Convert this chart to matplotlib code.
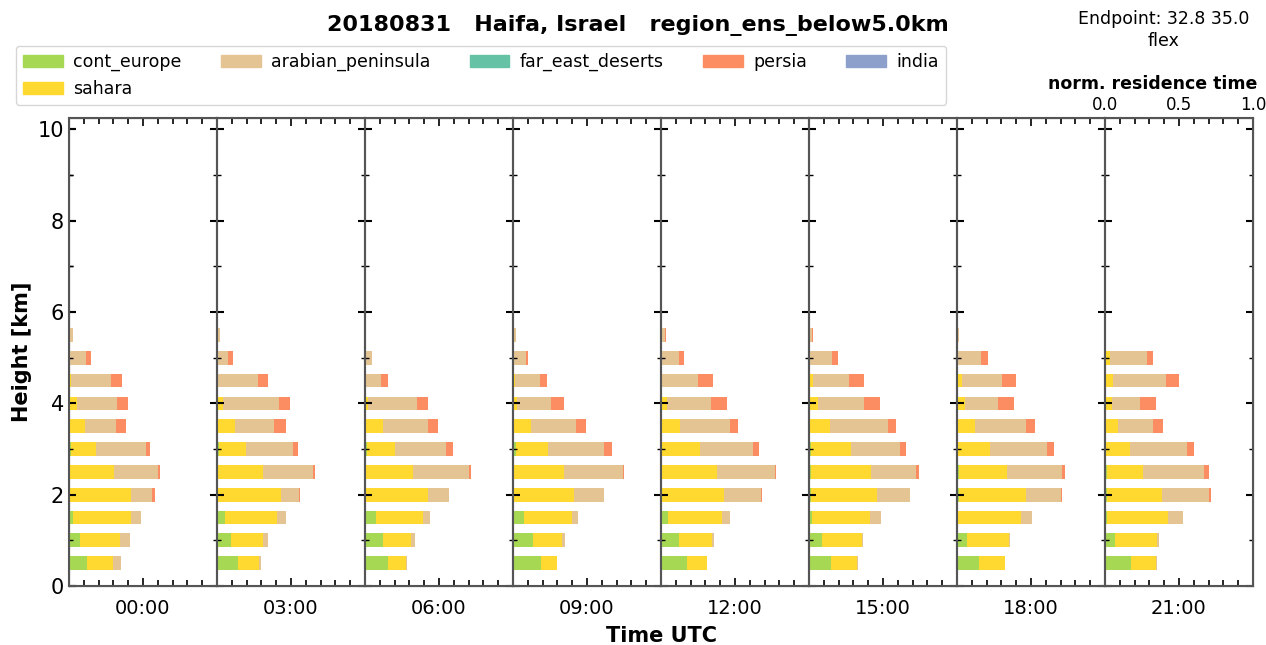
import numpy as np
import matplotlib
matplotlib.use('Agg')
import matplotlib.pyplot as plt

times = [0, 3, 6, 9, 12, 15, 18, 21]
time_labels = ['00:00', '03:00', '06:00', '09:00', '12:00', '15:00', '18:00', '21:00']
heights = [0.5, 1.0, 1.5, 2.0, 2.5, 3.0, 3.5, 4.0, 4.5, 5.0, 5.5]

# normalized residence time per time step, levels 0.5 ... 5.5 km
cont_europe = [
    [0.124, 0.077, 0.030, 0.000, 0.000, 0.016, 0.009, 0.000, 0.000, 0.000, 0.000],
    [0.140, 0.095, 0.056, 0.009, 0.007, 0.016, 0.005, 0.000, 0.000, 0.000, 0.000],
    [0.158, 0.124, 0.077, 0.009, 0.005, 0.014, 0.009, 0.000, 0.000, 0.000, 0.000],
    [0.191, 0.133, 0.072, 0.009, 0.009, 0.018, 0.007, 0.000, 0.005, 0.005, 0.000],
    [0.173, 0.119, 0.045, 0.005, 0.007, 0.009, 0.005, 0.000, 0.000, 0.007, 0.000],
    [0.146, 0.088, 0.018, 0.011, 0.011, 0.016, 0.000, 0.000, 0.000, 0.000, 0.000],
    [0.146, 0.068, 0.009, 0.016, 0.014, 0.000, 0.000, 0.000, 0.000, 0.000, 0.000],
    [0.178, 0.070, 0.011, 0.014, 0.011, 0.000, 0.000, 0.000, 0.000, 0.000, 0.000],
]
sahara = [
    [0.173, 0.266, 0.390, 0.420, 0.304, 0.164, 0.100, 0.056, 0.016, 0.000, 0.000],
    [0.144, 0.218, 0.351, 0.426, 0.306, 0.180, 0.115, 0.043, 0.007, 0.000, 0.000],
    [0.117, 0.190, 0.315, 0.419, 0.320, 0.190, 0.113, 0.023, 0.000, 0.000, 0.000],
    [0.106, 0.196, 0.329, 0.403, 0.338, 0.221, 0.113, 0.029, 0.011, 0.000, 0.000],
    [0.140, 0.223, 0.365, 0.421, 0.374, 0.257, 0.126, 0.043, 0.009, 0.000, 0.000],
    [0.176, 0.268, 0.396, 0.450, 0.410, 0.270, 0.140, 0.059, 0.027, 0.009, 0.000],
    [0.180, 0.282, 0.421, 0.448, 0.324, 0.221, 0.119, 0.052, 0.032, 0.007, 0.000],
    [0.164, 0.284, 0.417, 0.369, 0.248, 0.167, 0.088, 0.050, 0.052, 0.032, 0.000],
]
arabian_peninsula = [
    [0.052, 0.072, 0.068, 0.140, 0.300, 0.338, 0.210, 0.266, 0.270, 0.113, 0.027],
    [0.016, 0.034, 0.061, 0.120, 0.333, 0.315, 0.266, 0.376, 0.270, 0.072, 0.018],
    [0.009, 0.027, 0.050, 0.142, 0.380, 0.342, 0.306, 0.327, 0.106, 0.045, 0.009],
    [0.000, 0.020, 0.036, 0.200, 0.396, 0.376, 0.309, 0.225, 0.164, 0.081, 0.018],
    [0.000, 0.014, 0.056, 0.250, 0.387, 0.354, 0.333, 0.293, 0.243, 0.113, 0.025],
    [0.007, 0.007, 0.074, 0.220, 0.302, 0.327, 0.392, 0.311, 0.241, 0.144, 0.023],
    [0.000, 0.005, 0.077, 0.241, 0.369, 0.385, 0.349, 0.227, 0.275, 0.153, 0.016],
    [0.007, 0.009, 0.097, 0.318, 0.408, 0.390, 0.234, 0.185, 0.358, 0.255, 0.004],
]
far_east_deserts = [
    [0.0] * 11, [0.0] * 11, [0.0] * 11, [0.0] * 11,
    [0.0] * 11, [0.0] * 11, [0.0] * 11, [0.0] * 11,
]
persia = [
    [0.000, 0.000, 0.000, 0.022, 0.013, 0.027, 0.065, 0.077, 0.072, 0.038, 0.000],
    [0.000, 0.000, 0.000, 0.009, 0.014, 0.034, 0.083, 0.077, 0.070, 0.034, 0.000],
    [0.000, 0.000, 0.000, 0.000, 0.014, 0.047, 0.068, 0.079, 0.050, 0.000, 0.000],
    [0.000, 0.000, 0.000, 0.000, 0.009, 0.052, 0.063, 0.088, 0.052, 0.014, 0.000],
    [0.000, 0.000, 0.000, 0.005, 0.009, 0.041, 0.059, 0.113, 0.099, 0.038, 0.009],
    [0.000, 0.000, 0.000, 0.000, 0.018, 0.041, 0.059, 0.110, 0.101, 0.041, 0.007],
    [0.000, 0.000, 0.000, 0.005, 0.025, 0.047, 0.059, 0.106, 0.092, 0.047, 0.000],
    [0.000, 0.000, 0.000, 0.014, 0.034, 0.047, 0.070, 0.108, 0.088, 0.038, 0.000],
]
# india only shows up as faint traces high up
india_heights = [7.5, 8.0, 8.5, 9.0, 9.5, 10.0]
india = [
    [0.0, 0.0, 0.0, 0.0, 0.0, 0.0],
    [0.0, 0.0, 0.0, 0.01, 0.01, 0.0],
    [0.0, 0.0, 0.01, 0.0, 0.01, 0.0],
    [0.0, 0.0, 0.01, 0.01, 0.01, 0.0],
    [0.0, 0.0, 0.0, 0.0, 0.0, 0.01],
    [0.0, 0.01, 0.0, 0.0, 0.01, 0.0],
    [0.0, 0.0, 0.0, 0.0, 0.0, 0.01],
    [0.0, 0.0, 0.01, 0.0, 0.01, 0.0],
]

regions = ['cont_europe', 'sahara', 'arabian_peninsula', 'far_east_deserts', 'persia', 'india']
colors = ['#a6d854', '#ffd92f', '#e5c494', '#66c2a5', '#fc8d62', '#8da0cb']
low_data = [cont_europe, sahara, arabian_peninsula, far_east_deserts, persia]

ymax = 10.25
fig = plt.figure(figsize=(12.66, 6.45), dpi=100)
ax = fig.add_axes([69 / 1266, 1 - 586 / 645, (1253 - 69) / 1266, (586 - 118) / 645])
ax.set_xlim(-1.5, 22.5)
ax.set_ylim(0, ymax)
ax.set_xticks(times)
ax.set_xticklabels(time_labels, fontsize=14)
ax.tick_params(axis='x', length=0, pad=9)
ax.set_yticks([0, 2, 4, 6, 8, 10])
ax.set_yticks([1, 3, 5, 7, 9], minor=True)
ax.tick_params(axis='y', which='major', direction='in', length=5, width=1.5, labelsize=15)
ax.tick_params(axis='y', which='minor', direction='in', length=3, width=1)
ax.set_ylabel('Height [km]', fontsize=15, fontweight='bold')
ax.set_xlabel('Time UTC', fontsize=15, fontweight='bold', labelpad=6)

for i, t in enumerate(times):
    ins = ax.inset_axes([t - 1.5, 0, 3, ymax], transform=ax.transData)
    left = np.zeros(len(heights))
    for k, series in enumerate(low_data):
        vals = np.array(series[i])
        ins.barh(heights, vals, left=left, height=0.3, color=colors[k], edgecolor='none')
        left = left + vals
    ins.barh(india_heights, india[i], height=0.3, color=colors[5], edgecolor='none')
    ins.set_xlim(0, 1)
    ins.set_ylim(0, ymax)
    for s in ins.spines.values():
        s.set_color('#555555')
        s.set_linewidth(1.5)
    ins.set_facecolor('none')
    ins.set_xticks([0.0, 0.5, 1.0])
    ins.set_xticks([0.1, 0.2, 0.3, 0.4, 0.6, 0.7, 0.8, 0.9], minor=True)
    ins.set_yticks([0, 2, 4, 6, 8, 10])
    ins.set_yticks([1, 3, 5, 7, 9], minor=True)
    ins.tick_params(which='both', direction='in', top=True, bottom=True, left=True, right=True,
                    labelleft=False, labelbottom=False, labeltop=False, colors='black')
    ins.tick_params(which='major', length=5, width=1.5)
    ins.tick_params(which='minor', length=3, width=1)
    ins.tick_params(axis='x', which='major', length=6, width=1.2)
    ins.tick_params(axis='x', which='minor', length=4, width=1.2)
    if i == len(times) - 1:
        ins.tick_params(axis='x', labeltop=True, labelsize=12, pad=3)
        ins.set_xticklabels(['0.0', '0.5', '1.0'])

fig.text(1153 / 1266, 1 - 84 / 645, 'norm. residence time', ha='center', va='center',
         fontsize=12.5, fontweight='bold')

handles = [plt.Rectangle((0, 0), 1, 1, color=c) for c in colors]
fig.legend(handles, regions, loc='upper left', bbox_to_anchor=(16 / 1266, 1 - 46 / 645),
           ncol=5, fontsize=12.5, frameon=True, borderaxespad=0, handlelength=2.3,
           columnspacing=2.25, handletextpad=0.6, labelspacing=0.5)

fig.text(0.504, 1 - 26 / 645, '20180831   Haifa, Israel   region_ens_below5.0km',
         ha='center', va='center', fontsize=16, fontweight='bold')
fig.text(1164 / 1266, 1 - 30 / 645, 'Endpoint: 32.8 35.0\nflex', ha='center', va='center',
         fontsize=12.5, linespacing=1.3)

fig.savefig('out.png', dpi=100)
